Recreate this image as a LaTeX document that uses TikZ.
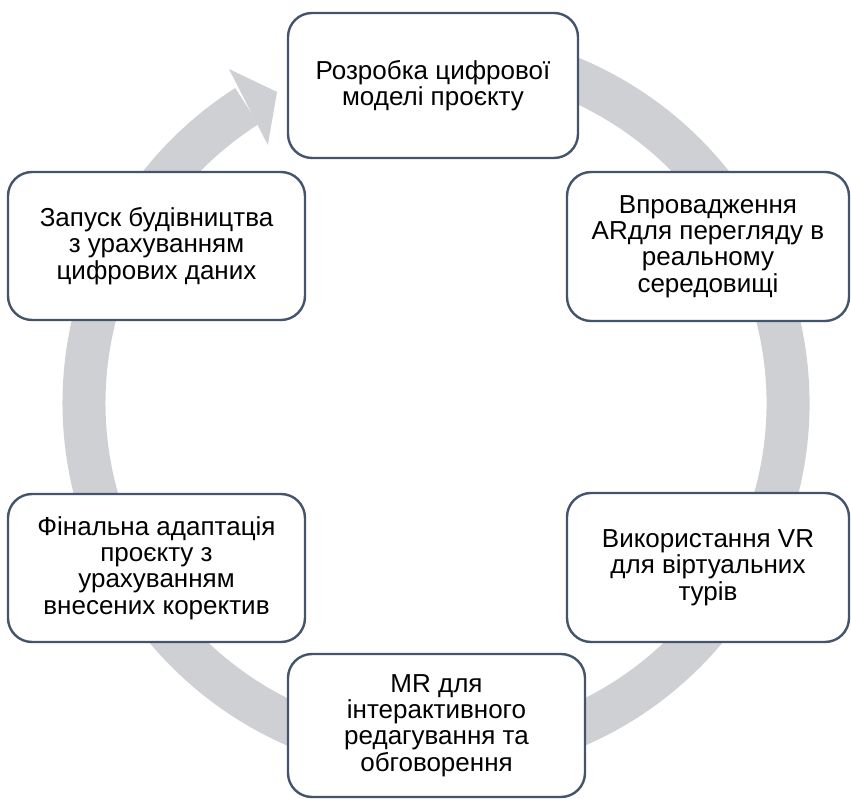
\documentclass[tikz,border=0pt]{standalone}
\usepackage{fontspec}
\setmainfont{Liberation Sans}
\usetikzlibrary{calc}
\definecolor{boxline}{HTML}{44546A}
\definecolor{ringgray}{HTML}{CFD0D4}
\begin{document}
\begin{tikzpicture}[x=1pt,y=1pt,
  stagebox/.style={draw=boxline, line width=2.4pt, fill=white, rounded corners=24pt,
    align=center, inner sep=2pt, font=\fontsize{26pt}{26.3pt}\selectfont, text=black},
]
\useasboundingbox (0,0) rectangle (851,798);
% ring
\coordinate (c) at (436,395);
\draw[ringgray, line width=43pt] ($(c)+(100:352)$) arc[start angle=100, end angle=-237.5, radius=352];
\fill[ringgray] ($(c)+(121.8:393)$) -- ($(c)+(117.07:349.3)$) -- ($(c)+(123.1:308)$) -- cycle;
% boxes
\node[stagebox, minimum width=290pt, minimum height=145pt] (b1) at (433,712.5)
  {Розробка цифрової\\моделі проєкту};
\node[stagebox, minimum width=282pt, minimum height=149pt] (b2) at (708,551.5)
  {Впровадження\\ARдля перегляду в\\реальному\\середовищі};
\node[stagebox, minimum width=282pt, minimum height=149pt] (b3) at (708,230.5)
  {Використання VR\\для віртуальних\\турів};
\node[stagebox, minimum width=297pt, minimum height=143pt] (b4) at (436.5,72.5)
  {MR для\\інтерактивного\\редагування та\\обговорення};
\node[stagebox, minimum width=297pt, minimum height=148pt] (b5) at (156.5,230)
  {Фінальна адаптація\\проєкту з\\урахуванням\\внесених коректив};
\node[stagebox, minimum width=297pt, minimum height=148pt] (b6) at (156.5,552)
  {Запуск будівництва\\з урахуванням\\цифрових даних};
\end{tikzpicture}
\end{document}
